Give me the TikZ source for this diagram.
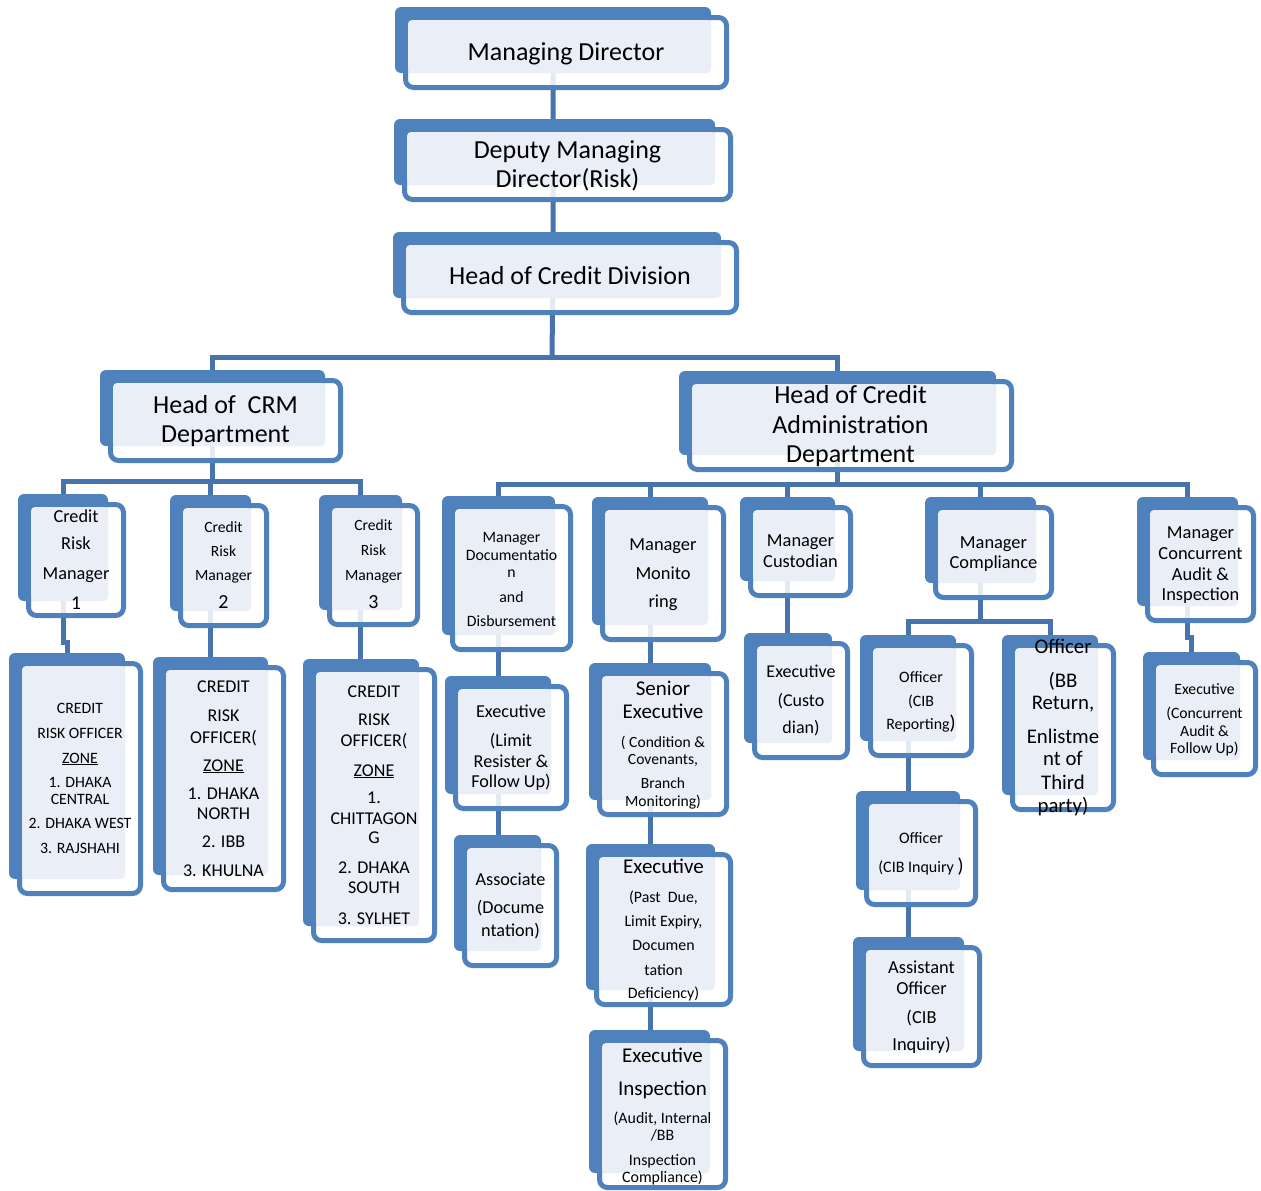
\documentclass[tikz,border=0pt]{standalone}
\usepackage{fontspec}
\setmainfont{Carlito}
\usetikzlibrary{backgrounds}

\definecolor{boxblue}{HTML}{4F81BD}
\definecolor{connblue}{HTML}{4874AE}
\definecolor{lightfill}{HTML}{EAEFF7}

\tikzset{
  conn/.style={draw=connblue, line width=5pt},
  backbox/.style={fill=boxblue, rounded corners=6pt, inner sep=0pt, outer sep=0pt},
  frontbox/.style={draw=boxblue, line width=5pt, fill=white, fill opacity=0.85,
                   draw opacity=1, rounded corners=8pt, inner sep=0pt, outer sep=0pt},
  lbl/.style={anchor=base, inner sep=0pt, text=black},
}

% \orgbox{name}{left}{top}{right}{bottom}: outer edges of the front frame
\newcommand\orgbox[5]{%
  \node[backbox, minimum width={#4-#2-10}, minimum height={#5-#3-9}]
       (#1-b) at ({(#2+#4-26)/2},{(#3+#5-25)/2}) {};
  \node[frontbox, minimum width={#4-#2-5}, minimum height={#5-#3-5}]
       (#1) at ({(#2+#4)/2},{(#3+#5)/2}) {};
  \fill[lightfill, rounded corners=4pt] ({#2+5},{#3+5}) rectangle ({#4-18},{#5-17});
}
% \lineat{box}{index}{font size}{baseline}{text}
\newcommand\lineat[5]{%
  \node[lbl, font=\fontsize{#3}{#3}\selectfont] (#1-#2) at (#1.center |- 0,#4) {#5};}
\newcommand\bigparen{{\fontsize{20}{20}\selectfont)}}

\begin{document}
\begin{tikzpicture}[x=1pt, y=-1pt]
\useasboundingbox (0,0) rectangle (1261,1191);

% ---- boxes ----
\orgbox{md}{403}{15}{729}{90}
\orgbox{dmd}{402}{127}{733}{202}
\orgbox{hcd}{401}{240}{739}{315}
\orgbox{crm}{108}{378}{343}{463}
\orgbox{cad}{687}{379}{1014}{472}

\orgbox{crm1}{26}{502}{126}{618}
\orgbox{crm2}{178}{503}{269}{628}
\orgbox{crm3}{327}{503}{420}{627}
\orgbox{cro1}{17}{661}{143}{896}
\orgbox{cro2}{161}{665}{286}{892}
\orgbox{cro3}{311}{667}{437}{943}

\orgbox{mdoc}{450}{504}{573}{652}
\orgbox{mmon}{600}{505}{726}{642}
\orgbox{mcus}{748}{505}{853}{598}
\orgbox{mcomp}{933}{505}{1054}{600}
\orgbox{mconc}{1145}{505}{1256}{623}

\orgbox{elim}{453}{684}{569}{811}
\orgbox{assoc}{462}{843}{559}{968}
\orgbox{senior}{597}{671}{729}{817}
\orgbox{epast}{594}{852}{733}{1007}
\orgbox{einsp}{597}{1038}{728}{1190}
\orgbox{ecus}{752}{641}{850}{760}
\orgbox{ocibr}{868}{643}{974}{758}
\orgbox{obb}{1010}{643}{1116}{812}
\orgbox{ocibi}{864}{799}{978}{907}
\orgbox{asst}{861}{945}{982}{1068}
\orgbox{econc}{1151}{660}{1258}{777}

% ---- connectors (behind the boxes) ----
\coordinate (trunk) at (552,357);
\coordinate (crmbus) at (0,481);
\coordinate (cadbus) at (0,484);
\coordinate (compbus) at (0,621);
\begin{pgfonlayer}{background}
  \draw[conn] (md-b.center) -- (md-b.center |- dmd-b.center)
              -- (md-b.center |- hcd-b.center) -- (trunk);
  \draw[conn] (crm-b.center) |- (trunk) -| (cad-b.center);

  \draw[conn] (crm-b.center) -- (crm-b.center |- crmbus);
  \draw[conn] (crm1-b.center) |- (crmbus -| crm3-b.center) -- (crm3-b.center);
  \draw[conn] (crm2-b.center) -- (crm2-b.center |- crmbus);
  \draw[conn] (crm1-b.center) -- (crm1-b.center |- 0,642) -| (cro1-b.center);
  \draw[conn] (crm2-b.center) -- (crm2-b.center |- cro2-b.center);
  \draw[conn] (crm3-b.center) -- (crm3-b.center |- cro3-b.center);

  \draw[conn] (cad-b.center) -- (cad-b.center |- cadbus);
  \draw[conn] (mdoc-b.center) |- (cadbus -| mconc-b.center) -- (mconc-b.center);
  \foreach \n in {mmon,mcus,mcomp}
    \draw[conn] (\n-b.center) -- (\n-b.center |- cadbus);

  \draw[conn] (mdoc-b.center) -- (mdoc-b.center |- elim-b.center);
  \draw[conn] (elim-b.center) -- (elim-b.center |- assoc-b.center);
  \draw[conn] (mmon-b.center) -- (mmon-b.center |- senior-b.center);
  \draw[conn] (senior-b.center) -- (senior-b.center |- epast-b.center);
  \draw[conn] (epast-b.center) -- (epast-b.center |- einsp-b.center);
  \draw[conn] (mcus-b.center) -- (mcus-b.center |- ecus-b.center);

  \draw[conn] (mcomp-b.center) -- (mcomp-b.center |- compbus);
  \draw[conn] (ocibr-b.center) |- (compbus -| obb-b.center) -- (obb-b.center);
  \draw[conn] (ocibr-b.center) -- (ocibr-b.center |- ocibi-b.center);
  \draw[conn] (ocibi-b.center) -- (ocibi-b.center |- asst-b.center);
  \draw[conn] (mconc-b.center) -- (mconc-b.center |- 0,637) -| (econc-b.center);
\end{pgfonlayer}

% ---- labels ----
\lineat{md}{1}{26}{60}{Managing Director}
\lineat{dmd}{1}{26}{158}{Deputy Managing}
\lineat{dmd}{2}{26}{187}{Director(Risk)}
\lineat{hcd}{1}{26}{284}{Head of Credit Division}
\lineat{crm}{1}{26}{413}{Head of~ CRM}
\lineat{crm}{2}{26}{442}{Department}
\lineat{cad}{1}{26}{403}{Head of Credit}
\lineat{cad}{2}{26}{433}{Administration}
\lineat{cad}{3}{26}{462}{Department}

\lineat{crm1}{1}{18.3}{522}{Credit}
\lineat{crm1}{2}{18.3}{549}{Risk}
\lineat{crm1}{3}{18.3}{579}{Manager}
\lineat{crm1}{4}{19.5}{609}{1}
\lineat{crm2}{1}{15.6}{532}{Credit}
\lineat{crm2}{2}{15.6}{556}{Risk}
\lineat{crm2}{3}{15.6}{580}{Manager}
\lineat{crm2}{4}{20}{608}{2}
\lineat{crm3}{1}{15.6}{530}{Credit}
\lineat{crm3}{2}{15.6}{555}{Risk}
\lineat{crm3}{3}{15.6}{580}{Manager}
\lineat{crm3}{4}{20}{608}{3}

\lineat{cro1}{1}{15.8}{713}{CREDIT}
\lineat{cro1}{2}{15.8}{738}{RISK OFFICER}
\lineat{cro1}{3}{15.8}{763}{\underline{ZONE}}
\lineat{cro1}{4}{15.8}{787}{1. DHAKA}
\lineat{cro1}{5}{15.8}{804}{CENTRAL}
\lineat{cro1}{6}{15.8}{828}{2. DHAKA WEST}
\lineat{cro1}{7}{15.8}{853}{3. RAJSHAHI}

\lineat{cro2}{1}{18}{692}{CREDIT}
\lineat{cro2}{2}{18}{721}{RISK}
\lineat{cro2}{3}{18}{743}{OFFICER(}
\lineat{cro2}{4}{18}{771}{\underline{ZONE}}
\lineat{cro2}{5}{18}{799}{1. DHAKA}
\lineat{cro2}{6}{18}{819}{NORTH}
\lineat{cro2}{7}{18}{847}{2. IBB}
\lineat{cro2}{8}{18}{876}{3. KHULNA}

\lineat{cro3}{1}{18}{697}{CREDIT}
\lineat{cro3}{2}{18}{725}{RISK}
\lineat{cro3}{3}{18}{746}{OFFICER(}
\lineat{cro3}{4}{18}{776}{\underline{ZONE}}
\lineat{cro3}{5}{18}{803}{1.}
\lineat{cro3}{6}{18}{824}{CHITTAGON}
\lineat{cro3}{7}{18}{843}{G}
\lineat{cro3}{8}{18}{873}{2. DHAKA}
\lineat{cro3}{9}{18}{893}{SOUTH}
\lineat{cro3}{10}{18}{924}{3. SYLHET}

\lineat{mdoc}{1}{15.8}{542}{Manager}
\lineat{mdoc}{2}{15.8}{560}{Documentatio}
\lineat{mdoc}{3}{15.8}{577}{n}
\lineat{mdoc}{4}{15.8}{602}{and}
\lineat{mdoc}{5}{15.8}{626}{Disbursement}

\lineat{mmon}{1}{18.4}{550}{Manager}
\lineat{mmon}{2}{18.4}{579}{Monito}
\lineat{mmon}{3}{18.4}{607}{ring}

\lineat{mcus}{1}{18.4}{546}{Manager}
\lineat{mcus}{2}{18.4}{567}{Custodian}

\lineat{mcomp}{1}{18.4}{548}{Manager}
\lineat{mcomp}{2}{18.4}{568}{Compliance}

\lineat{mconc}{1}{18.4}{538}{Manager}
\lineat{mconc}{2}{18.4}{559}{Concurrent}
\lineat{mconc}{3}{18.4}{580}{Audit \&}
\lineat{mconc}{4}{18.4}{600}{Inspection}

\lineat{elim}{1}{18.2}{717}{Executive}
\lineat{elim}{2}{18.2}{746}{(Limit}
\lineat{elim}{3}{18.2}{767}{Resister \&}
\lineat{elim}{4}{18.2}{787}{Follow Up)}

\lineat{assoc}{1}{18.2}{885}{Associate}
\lineat{assoc}{2}{18.2}{913}{(Docume}
\lineat{assoc}{3}{18.2}{936}{ntation)}

\lineat{senior}{1}{21}{695}{Senior}
\lineat{senior}{2}{21}{718}{Executive}
\lineat{senior}{3}{15.6}{747}{( Condition \&}
\lineat{senior}{4}{15.6}{764}{Covenants,}
\lineat{senior}{5}{15.6}{788}{Branch}
\lineat{senior}{6}{15.6}{806}{Monitoring)}

\lineat{epast}{1}{21}{873}{Executive}
\lineat{epast}{2}{15.9}{902}{(Past~ Due,}
\lineat{epast}{3}{15.9}{926}{Limit Expiry,}
\lineat{epast}{4}{15.9}{950}{Documen}
\lineat{epast}{5}{15.9}{975}{tation}
\lineat{epast}{6}{15.9}{998}{Deficiency)}

\lineat{einsp}{1}{21}{1062}{Executive}
\lineat{einsp}{2}{21}{1095}{Inspection}
\lineat{einsp}{3}{15.9}{1123}{(Audit, Internal}
\lineat{einsp}{4}{15.9}{1140}{/BB}
\lineat{einsp}{5}{15.9}{1165}{Inspection}
\lineat{einsp}{6}{15.9}{1182}{Compliance)}

\lineat{ecus}{1}{18}{677}{Executive}
\lineat{ecus}{2}{18}{706}{(Custo}
\lineat{ecus}{3}{18}{733}{dian)}

\lineat{ocibr}{1}{15.9}{682}{Officer}
\lineat{ocibr}{2}{15.9}{706}{(CIB}
\lineat{ocibr}{3}{15.9}{729}{Reporting\bigparen}

\lineat{obb}{1}{20.8}{653}{Officer}
\lineat{obb}{2}{20.8}{687}{(BB}
\lineat{obb}{3}{20.8}{709}{Return,}
\lineat{obb}{4}{20.8}{743}{Enlistme}
\lineat{obb}{5}{20.8}{765}{nt of}
\lineat{obb}{6}{20.8}{789}{Third}
\lineat{obb}{7}{20.8}{812}{party)}

\lineat{ocibi}{1}{16}{843}{Officer}
\lineat{ocibi}{2}{16}{872}{(CIB Inquiry \bigparen}

\lineat{asst}{1}{18.4}{973}{Assistant}
\lineat{asst}{2}{18.4}{994}{Officer}
\lineat{asst}{3}{18.4}{1023}{(CIB}
\lineat{asst}{4}{18.4}{1050}{Inquiry)}

\lineat{econc}{1}{15.7}{694}{Executive}
\lineat{econc}{2}{15.7}{718}{(Concurrent}
\lineat{econc}{3}{15.7}{736}{Audit \&}
\lineat{econc}{4}{15.7}{753}{Follow Up)}
\end{tikzpicture}
\end{document}
